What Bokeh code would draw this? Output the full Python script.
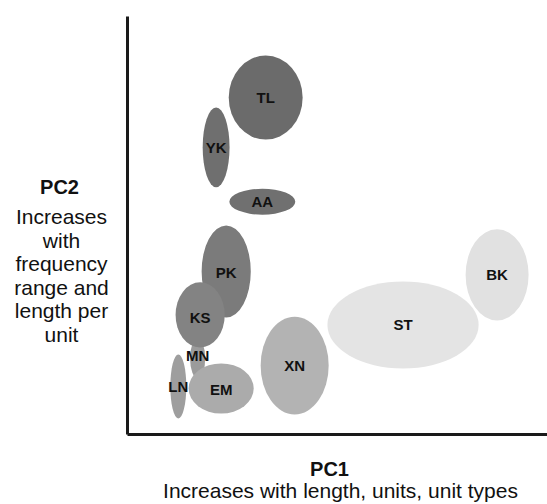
from bokeh.plotting import figure
from bokeh.models import ColumnDataSource, Label, FixedTicker, Range1d
from bokeh.core.properties import value
from bokeh.embed import file_html
from bokeh.resources import INLINE

# ---- data (PC1 / PC2 scores, arbitrary units) ----
names   = ["MN", "TL", "YK", "AA", "PK", "KS", "LN", "EM", "XN", "ST", "BK"]
pc1     = [16.7, 32.9, 21.1, 32.1, 23.5, 17.3, 12.1, 22.3, 39.8, 65.6, 88.0]
pc2     = [18.2, 80.6, 68.7, 55.7, 39.0, 28.6, 11.5, 11.0, 16.5, 26.2, 38.2]
spread1 = [3.6, 17.6, 6.4, 15.7, 11.7, 11.7, 3.8, 15.5, 16.2, 36.0, 15.0]
spread2 = [9.6, 20.1, 19.1, 6.2, 22.0, 15.6, 15.3, 12.0, 23.4, 20.8, 21.8]
label_y = [18.9, 80.6, 68.7, 55.7, 38.8, 27.9, 11.5, 10.8, 16.5, 26.2, 38.2]
shades  = ["#9b9b9b", "#6b6b6b", "#6f6f6f", "#707070", "#7b7b7b", "#838383",
           "#9e9e9e", "#ababab", "#b3b3b3", "#e4e4e4", "#e1e1e1"]

x_title = "PC1"
x_desc = "Increases with length, units, unit types"
y_title = "PC2"
y_desc = ["Increases", "with", "frequency", "range and", "length per", "unit"]

FONT = "Liberation Sans"

src = ColumnDataSource(dict(x=pc1, y=pc2, w=spread1, h=spread2,
                            ly=label_y, name=names, color=shades))

W, H = 547, 504
SX, SY = 4.2, 4.18          # pixels per unit
X0, Y0 = 127, 434           # page position of the axes' origin
p = figure(width=W, height=H, output_backend="svg", toolbar_location=None,
           x_range=Range1d(-X0 / SX, (W - X0) / SX),
           y_range=Range1d(-(H - Y0) / SY, Y0 / SY),
           min_border=0)
p.outline_line_color = None
p.xgrid.grid_line_color = None
p.ygrid.grid_line_color = None
p.background_fill_color = "white"
p.border_fill_color = "white"

for ax in (p.xaxis[0], p.yaxis[0]):
    ax.ticker = FixedTicker(ticks=[])
    ax.major_label_text_font_size = "0px"
    ax.major_tick_line_color = None
    ax.minor_tick_line_color = None
    ax.axis_line_width = 3
    ax.axis_line_color = "#1a1a1a"
    ax.fixed_location = 0
p.xaxis[0].bounds = (0, (W - X0) / SX)
p.yaxis[0].bounds = (0, (Y0 - 16) / SY)

p.ellipse(x="x", y="y", width="w", height="h", source=src,
          fill_color="color", line_color=None)

p.text(x="x", y="ly", text="name", source=src,
       text_font=value(FONT), text_font_style="bold",
       text_font_size="15px", text_color="#111111",
       text_align="center", text_baseline="middle")


def add_text(px, py, txt, bold=False, size="21px"):
    p.add_layout(Label(x=(px - X0) / SX, y=(Y0 - py) / SY,
                       text=txt, text_font=FONT,
                       text_font_style="bold" if bold else "normal",
                       text_font_size=size, text_color="#111111",
                       text_align="center", text_baseline="alphabetic"))


add_text(329, 468, x_title, bold=True, size="20px")
add_text(340, 490, x_desc)
add_text(59, 186, y_title, bold=True, size="20px")
for i, line in enumerate(y_desc):
    add_text(61, 216 + i * 23.5, line)

open("out.html", "w").write(file_html(p, INLINE))
